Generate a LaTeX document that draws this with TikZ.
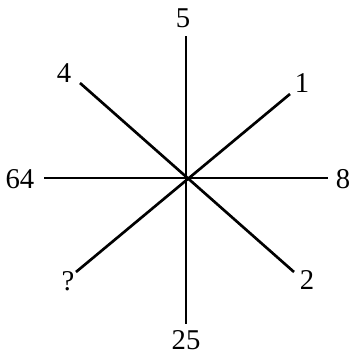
\documentclass[tikz,border=0pt]{standalone}
\usepackage{fontspec}
\setmainfont{Liberation Serif}
\usetikzlibrary{positioning}

\begin{document}
\begin{tikzpicture}[x=0.75pt,y=-0.75pt,line width=2pt,lbl/.style={font=\fontsize{21.5}{25}\selectfont,inner sep=0pt}]
\useasboundingbox (0,0) rectangle (350,354);
\coordinate (c) at (186,178);
\coordinate (n) at (186,36); \coordinate (s) at (186,324);
\coordinate (w) at (44,178); \coordinate (e) at (328,178);
\coordinate (nw) at (80,83); \coordinate (se) at (294,272);
\coordinate (ne) at (290,94); \coordinate (sw) at (76,272);
\draw (n) -- (s); \draw (w) -- (e);
\draw (nw) -- (se); \draw (ne) -- (sw);
\node[lbl] (l5) at (183,18) {5}; \node[lbl] (l25) at (186,340) {25};
\node[lbl] (l4) at (64,73) {4}; \node[lbl] (l1) at (302,83) {1};
\node[lbl] (l64) at (20,179) {64}; \node[lbl] (l8) at (343,179) {8};
\node[lbl] (lq) at (68,281) {?}; \node[lbl] (l2) at (307,280) {2};
\end{tikzpicture}
\end{document}
